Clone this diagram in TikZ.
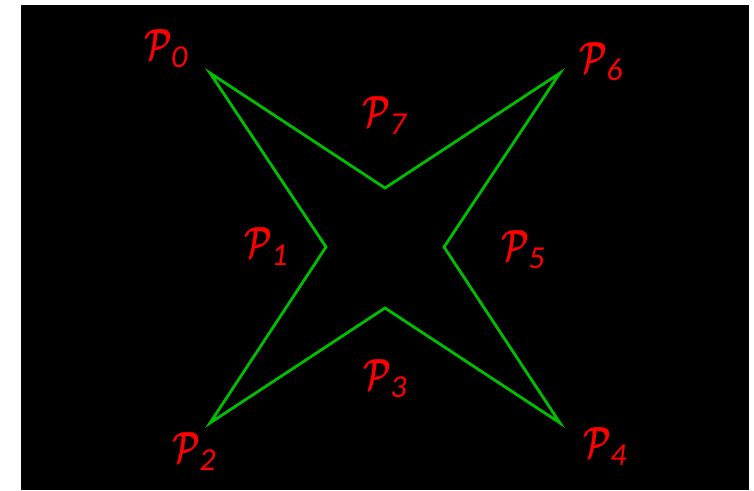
\documentclass[tikz,border=0pt]{standalone}
\usepackage{amsmath,amssymb}
\usepackage{graphicx}
\usepackage{xcolor}
\usepackage{fontspec}
\setmainfont{Carlito}
\definecolor{stargreen}{RGB}{0,190,0}
\newcommand{\plab}[1]{\scalebox{1.5}[2.1]{$\boldsymbol{\mathcal{P}}$}\kern-1pt\raisebox{-8pt}{\fontsize{32}{36}\selectfont\textit{#1}}}

\begin{document}
\begin{tikzpicture}[x=1pt,y=-1pt,
    edge/.style={draw=stargreen,line width=2.8pt,line join=miter},
    plabel/.style={text=red,inner sep=0pt,font=\fontsize{22}{26}\selectfont}]
    \useasboundingbox (0,0) rectangle (754,490);
    \fill[black] (21,5) rectangle (749,490);
    % star corners
    \coordinate (c0) at (210,73);
    \coordinate (c1) at (326,247);
    \coordinate (c2) at (210,423);
    \coordinate (c3) at (385,308);
    \coordinate (c4) at (560,423);
    \coordinate (c5) at (444,247);
    \coordinate (c6) at (560,73);
    \coordinate (c7) at (385,188);
    \draw[edge] (c0) -- (c1) -- (c2) -- (c3) -- (c4) -- (c5) -- (c6) -- (c7) -- cycle;
    % labels
    \node[plabel] (p0) at (166,49) {\plab{0}};
    \node[plabel] (p1) at (266,247) {\plab{1}};
    \node[plabel] (p2) at (194,452) {\plab{2}};
    \node[plabel] (p3) at (385,379) {\plab{3}};
    \node[plabel] (p4) at (605,447) {\plab{4}};
    \node[plabel] (p5) at (523,250) {\plab{5}};
    \node[plabel] (p6) at (601,62) {\plab{6}};
    \node[plabel] (p7) at (385,116) {\plab{7}};
\end{tikzpicture}
\end{document}
